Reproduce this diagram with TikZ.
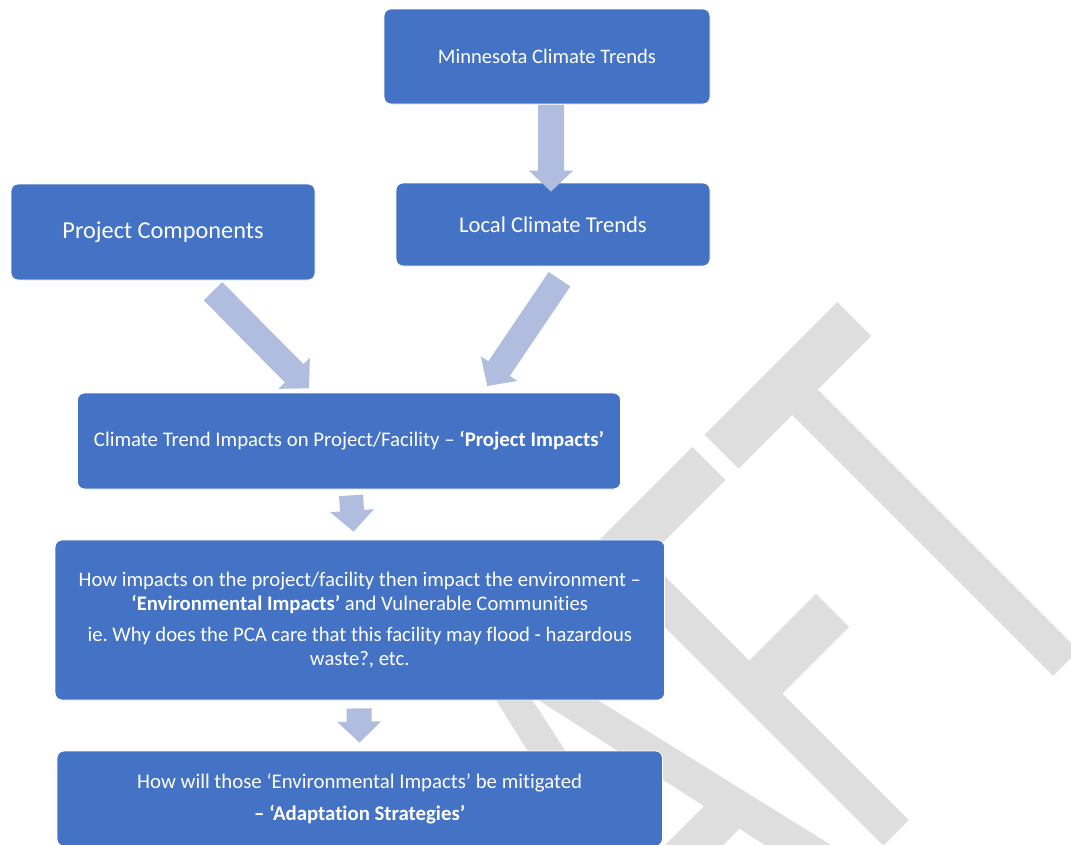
\documentclass[tikz,border=0pt]{standalone}
\usepackage{fontspec}
\setmainfont{Carlito}[Ligatures=NoCommon]
\frenchspacing
\usetikzlibrary{calc}
\definecolor{boxblue}{RGB}{68,114,196}
\definecolor{arrowblue}{RGB}{177,189,223}
\definecolor{wmgray}{RGB}{222,222,222}
\newcommand\blockarrow[3][26pt]{%
  \coordinate (hb) at ($(#3)!21pt!(#2)$);
  \fill[arrowblue] ($(#2)!0.5*#1!90:(#3)$) -- ($(hb)!0.5*#1!-90:(#2)$)
    -- ($(hb)!22pt!-90:(#2)$) -- (#3) -- ($(hb)!22pt!90:(#2)$)
    -- ($(hb)!0.5*#1!90:(#2)$) -- ($(#2)!0.5*#1!-90:(#3)$) -- cycle;}
\begin{document}
\begin{tikzpicture}[x=1pt,y=1pt,
  box/.style={draw=white, line width=0.8pt, fill=boxblue, rounded corners=7pt,
    text=white, align=center, inner sep=0pt},
  wm/.style={text=wmgray, inner sep=0pt, font=\fontsize{100}{100}\selectfont}]
\useasboundingbox (0,0) rectangle (1071,-844);
\clip (0,0) rectangle (1071,-844);
\fill[white] (0,0) rectangle (1071,-844);
% watermark
\node[wm, rotate=45, xscale=4.05, yscale=6.5, anchor=base east] (wmk) at (1136.5,-593.5) {DRAFT};
% boxes
\node[box, minimum width=326pt, minimum height=95pt, font=\fontsize{20.6}{24}\selectfont] (mn) at (547,-56.5) {Minnesota Climate Trends};
\node[box, minimum width=314pt, minimum height=83pt, font=\fontsize{22.6}{26}\selectfont] (lc) at (553,-224.5) {Local Climate Trends};
\node[box, minimum width=304pt, minimum height=96pt, font=\fontsize{24.3}{28}\selectfont] (pc) at (163,-232) {Project Components};
\node[box, minimum width=543pt, minimum height=96pt, font=\fontsize{20.8}{24}\selectfont] (ct) at (349,-441) {Climate Trend Impacts on Project/Facility – \textbf{‘Project Impacts’}};
\node[box, minimum width=609.5pt, minimum height=160pt, font=\fontsize{20.7}{23.5}\selectfont] (ev) at (359.8,-620) {How impacts on the project/facility then impact the environment –\\ \textbf{‘Environmental Impacts’} and Vulnerable Communities\\[8pt] ie. Why does the PCA care that this facility may flood - hazardous\\ waste?, etc.};
\node[box, minimum width=605.4pt, minimum height=95pt, font=\fontsize{20.8}{23.5}\selectfont] (ad) at (359.7,-798.5) {How will those ‘Environmental Impacts’ be mitigated\\[9pt] \textbf{– ‘Adaptation Strategies’}};
% connectors
\coordinate (a1s) at ($(mn.south)+(4,-0.5)$);
\coordinate (a1e) at ($(lc.north)+(-2,-9)$);
\coordinate (a2s) at (213,-291.2);
\coordinate (a2e) at (309,-388.3);
\coordinate (a3s) at (559.5,-279.2);
\coordinate (a3e) at (487.3,-386);
\coordinate (a4s) at ($(ct.south)+(2,-6)$);
\coordinate (a4e) at ($(ev.north)+(-6.3,8)$);
\coordinate (a5s) at ($(ev.south)+(-0.8,-8)$);
\coordinate (a5e) at ($(ad.north)+(-0.2,8)$);
\blockarrow{a1s}{a1e}
\blockarrow{a2s}{a2e}
\blockarrow{a3s}{a3e}
\blockarrow[24pt]{a4s}{a4e}
\blockarrow[25pt]{a5s}{a5e}
\end{tikzpicture}
\end{document}
